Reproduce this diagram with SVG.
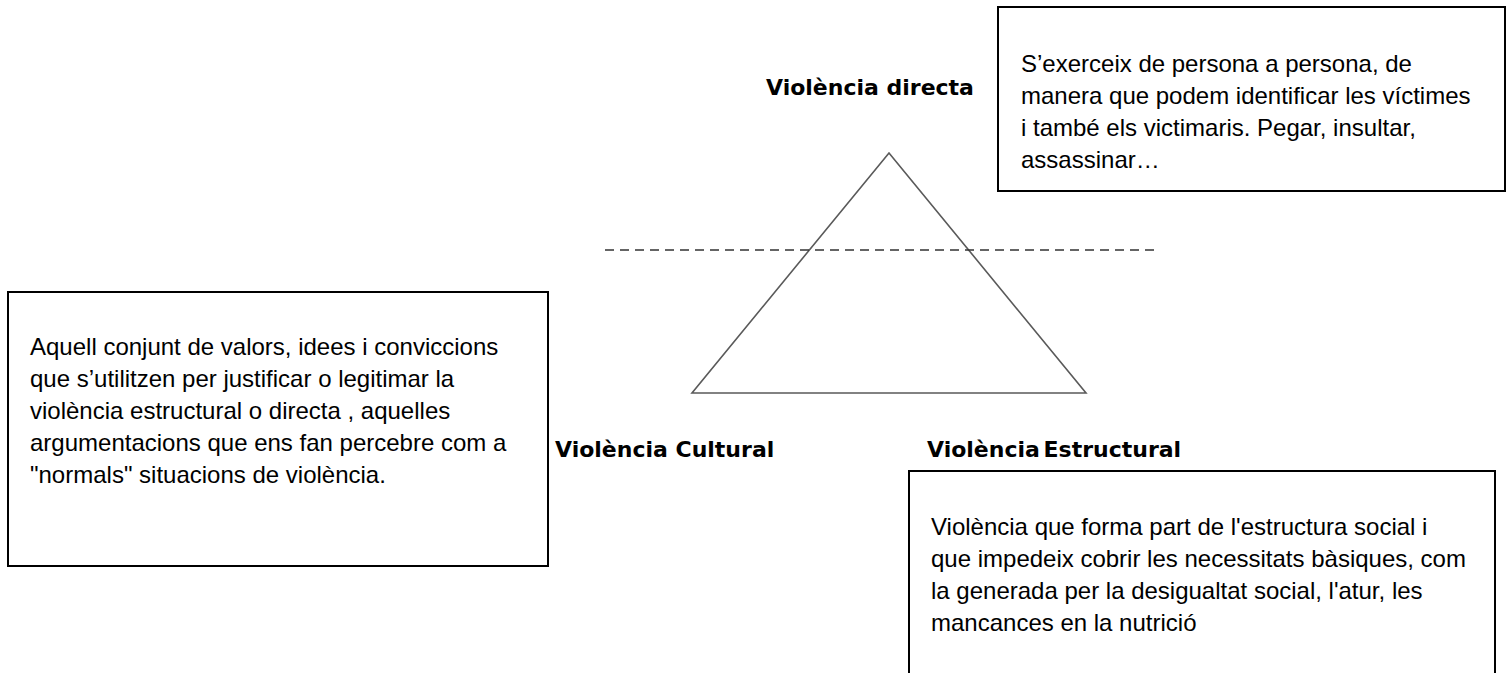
<svg xmlns="http://www.w3.org/2000/svg" width="1512" height="673" viewBox="0 0 1512 673">
<style>
.box{fill:#fff;stroke:#000;stroke-width:2}
.body{font-family:"Liberation Sans",Arial,sans-serif;font-size:24px;fill:#000}
.label{font-family:"DejaVu Sans",Verdana,sans-serif;font-weight:bold;font-size:22px;fill:#000}
.tri{fill:none;stroke:#5a5a5a;stroke-width:1.6}
.dash{stroke:#333;stroke-width:1.6;stroke-dasharray:9 6}
</style>
<rect width="1512" height="673" fill="#fff"/>
<g id="triangle">
<polygon class="tri" points="889,153 692,393 1086,393"/>
<line class="dash" x1="605" y1="250" x2="1160" y2="250"/>
</g>
<g id="label-directa"><text class="label" x="766" y="95">Violència directa</text></g>
<g id="label-cultural"><text class="label" x="555" y="457">Violència Cultural</text></g>
<g id="label-estructural"><text class="label" x="927" y="457" word-spacing="-4">Violència Estructural</text></g>
<g id="box-directa">
<rect class="box" x="998" y="7" width="507" height="184"/>
<text class="body" x="1021" y="72">S’exerceix de persona a persona, de</text>
<text class="body" x="1021" y="104">manera que podem identificar les víctimes</text>
<text class="body" x="1021" y="136">i també els victimaris. Pegar, insultar,</text>
<text class="body" x="1021" y="168">assassinar…</text>
</g>
<g id="box-cultural">
<rect class="box" x="8" y="292" width="540" height="274"/>
<text class="body" x="30" y="355">Aquell conjunt de valors, idees i conviccions</text>
<text class="body" x="30" y="387">que s’utilitzen per justificar o legitimar la</text>
<text class="body" x="30" y="419">violència estructural o directa , aquelles</text>
<text class="body" x="30" y="451">argumentacions que ens fan percebre com a</text>
<text class="body" x="30" y="483">"normals" situacions de violència.</text>
</g>
<g id="box-estructural">
<rect class="box" x="909" y="471" width="586" height="260"/>
<text class="body" x="931" y="535">Violència que forma part de l'estructura social i</text>
<text class="body" x="931" y="567">que impedeix cobrir les necessitats bàsiques, com</text>
<text class="body" x="931" y="599">la generada per la desigualtat social, l'atur, les</text>
<text class="body" x="931" y="631">mancances en la nutrició</text>
</g>
<g id="connectors"></g>
</svg>
